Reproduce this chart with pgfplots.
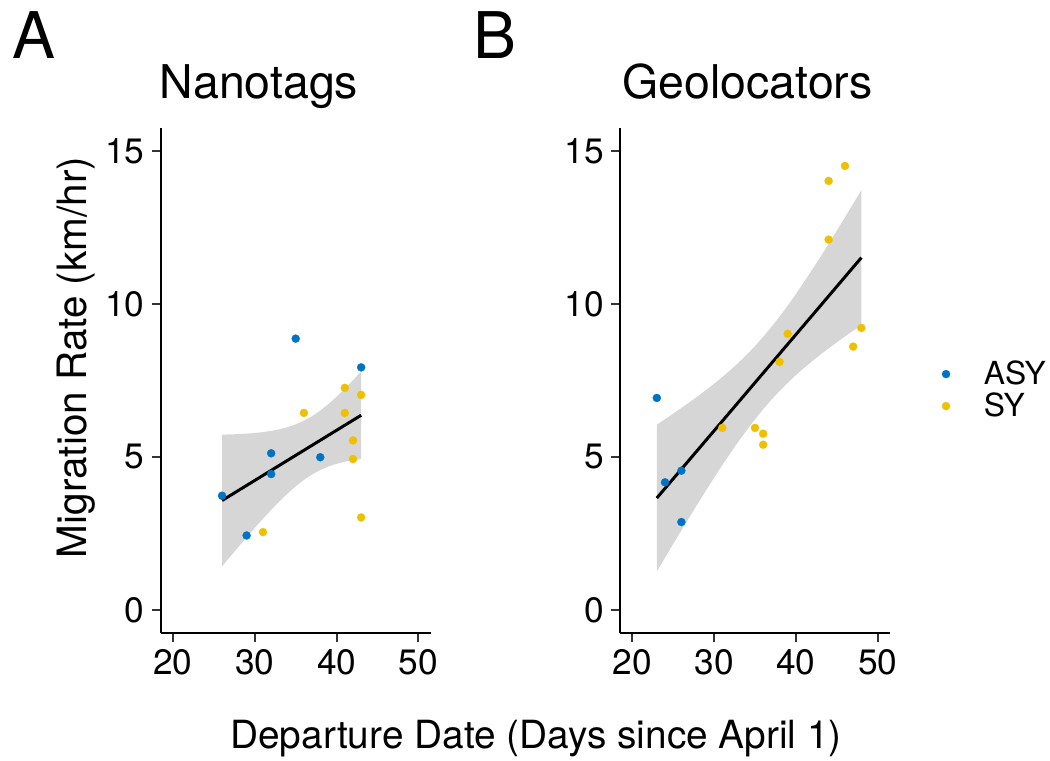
\documentclass[border=0pt]{standalone}
\usepackage{pgfplots}
\pgfplotsset{compat=1.18}
\usepackage{fontspec}
\setmainfont{TeX Gyre Heros}
\definecolor{asy}{HTML}{0073C2}
\definecolor{sy}{HTML}{EFC000}
\definecolor{grey60}{HTML}{999999}
\definecolor{grey20}{HTML}{333333}

\pgfplotsset{
 panel/.style={
  scale only axis, width=129.6bp, height=242.1bp,
  xmin=18.5, xmax=51.5, ymin=-0.75, ymax=15.75,
  axis lines=left, axis line style={-, line width=1bp, black},
  xtick={20,30,40,50}, ytick={0,5,10,15},
  tick align=outside, major tick length=4.3bp,
  every tick/.style={grey20, line width=1bp},
  tick label style={font=\fontsize{17}{17}\selectfont, black},
  /pgf/number format/assume math mode=true,
 },
 pts/.style={only marks, mark=*, mark size=1.95bp, color=#1, mark options={solid, fill=#1, draw=#1, line width=0.1bp}},
 rib/.style={fill=grey60, fill opacity=0.4, draw=none, forget plot},
 fit/.style={black, line width=1.44bp, forget plot},
}

\begin{document}
\begin{tikzpicture}
\useasboundingbox (0,0) rectangle (504bp,365.28bp);

% Panel A
\begin{axis}[panel, at={(77.14bp,61.58bp)}, anchor=south west]
\addplot[pts=asy] coordinates {(35,8.87) (43,7.93) (32,5.12) (32,4.44) (38,4.99) (26,3.73) (29,2.43)};
\addplot[pts=sy] coordinates {(41,7.26) (43,7.03) (36,6.44) (41,6.44) (42,5.54) (42,4.93) (31,2.54) (43,3.02)};
\addplot[rib] coordinates {
(26,5.730) (27,5.737) (28,5.747) (29,5.763) (30,5.784) (31,5.813) (32,5.852) (33,5.904) (34,5.973)
(35,6.065) (36,6.184) (37,6.333) (38,6.517) (39,6.730) (40,6.970) (41,7.232) (42,7.510) (43,7.801)
(43,4.929) (42,4.892) (41,4.842) (40,4.776) (39,4.688) (38,4.573) (37,4.427) (36,4.248) (35,4.039)
(34,3.803) (33,3.544) (32,3.268) (31,2.979) (30,2.680) (29,2.371) (28,2.059) (27,1.741) (26,1.420)} -- cycle;
\addplot[fit] coordinates {(26,3.575) (43,6.365)};
\end{axis}

% Panel B
\begin{axis}[panel, at={(297.6bp,61.58bp)}, anchor=south west,
  legend style={at={(1.191,0.481)}, anchor=west, draw=none, fill=none,
    font=\fontsize{15.3}{15.3}\selectfont, row sep=-1.5bp, inner sep=0pt},
  legend cell align=left,
  legend image code/.code={\draw[#1] plot coordinates {(0bp,0bp)}; \path (16bp,0bp);}]
\addplot[pts=asy] coordinates {(23,6.93) (26,4.55) (24,4.17) (26,2.87)};
\addlegendentry{ASY}
\addplot[pts=sy] coordinates {(46,14.52) (44,14.03) (44,12.11) (48,9.22) (47,8.61) (39,9.03) (38,8.11) (31,5.95) (35,5.95) (36,5.76) (36,5.40)};
\addlegendentry{SY}
\addplot[rib] coordinates {
(23,6.055) (24,6.234) (25,6.415) (26,6.600) (27,6.789) (28,6.984) (29,7.186) (30,7.394) (31,7.613)
(32,7.843) (33,8.088) (34,8.349) (35,8.628) (36,8.929) (37,9.249) (38,9.591) (39,9.952) (40,10.330)
(41,10.724) (42,11.129) (43,11.546) (44,11.972) (45,12.403) (46,12.841) (47,13.283) (48,13.730)
(48,9.310) (47,9.127) (46,8.941) (45,8.749) (44,8.552) (43,8.348) (42,8.135) (41,7.912) (40,7.676)
(39,7.426) (38,7.157) (37,6.869) (36,6.561) (35,6.232) (34,5.883) (33,5.514) (32,5.129) (31,4.731)
(30,4.320) (29,3.900) (28,3.472) (27,3.037) (26,2.598) (25,2.153) (24,1.706) (23,1.255)} -- cycle;
\addplot[fit] coordinates {(23,3.655) (48,11.52)};
\end{axis}

\node[anchor=base west, inner sep=0pt, font=\fontsize{31}{31}\selectfont] at (5.76bp,337.3bp) {A};
\node[anchor=base west, inner sep=0pt, font=\fontsize{31}{31}\selectfont] at (227bp,337.3bp) {B};
\node[anchor=base west, inner sep=0pt, font=\fontsize{22.4}{22.4}\selectfont] at (76.5bp,317.8bp) {Nanotags};
\node[anchor=base west, inner sep=0pt, font=\fontsize{22.4}{22.4}\selectfont] at (298.6bp,317.8bp) {Geolocators};
\node[anchor=base, inner sep=0pt, font=\fontsize{18.7}{18.7}\selectfont] at (257.3bp,6.1bp) {Departure Date (Days since April 1)};
\node[anchor=base, rotate=90, inner sep=0pt, font=\fontsize{19.5}{19.5}\selectfont] at (41.6bp,193.7bp) {Migration Rate (km/hr)};
\end{tikzpicture}
\end{document}
